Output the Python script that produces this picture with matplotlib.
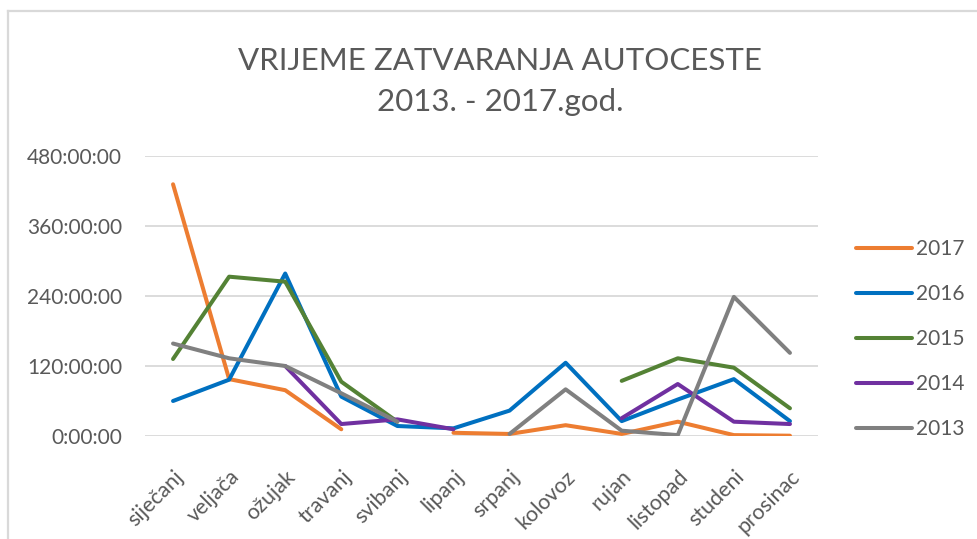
import numpy as np
import matplotlib
matplotlib.use("Agg")
import matplotlib.pyplot as plt
from matplotlib.lines import Line2D
from matplotlib.ticker import FuncFormatter, MultipleLocator

nan = np.nan

months = ["siječanj", "veljača", "ožujak", "travanj", "svibanj", "lipanj",
          "srpanj", "kolovoz", "rujan", "listopad", "studeni", "prosinac"]

# closure time in hours per month (missing months left empty)
y2017 = [431, 97, 78, 11, nan, 5, 3, 18, 3, 24, 1, 0]
y2016 = [59.5, 96, 278, 67, 16.6, 12.6, 43, 125, 25, 62, 97, 25]
y2015 = [131.5, 272.6, 264, 92.6, 24, nan, nan, nan, 94, 132.7, 116.6, 47]
y2014 = [nan, nan, 119.5, 20, 28, 11, nan, nan, 30, 88.6, 24, 20]
y2013 = [158, 132.7, 119.5, 72.7, 24, nan, 3, 79.5, 8.6, 1, 238, 142]

series_names = ["2017", "2016", "2015", "2014", "2013"]
series_values = [y2017, y2016, y2015, y2014, y2013]
series_colors = ["#ED7D31", "#0070C0", "#548235", "#7030A0", "#808080"]

y_ticks = [0, 120, 240, 360, 480]

text_color = "#595959"
plt.rcParams["font.family"] = ["Lato", "DejaVu Sans"]

W, H = 978, 539
fig = plt.figure(figsize=(W / 100, H / 100), dpi=100)

# chart-area border (top and left edges visible)
fig.add_artist(Line2D([8 / W, 8 / W], [0, 1 - 11 / H], transform=fig.transFigure,
                      color="#d9d9d9", lw=1.6))
fig.add_artist(Line2D([8 / W, 1], [1 - 11 / H, 1 - 11 / H], transform=fig.transFigure,
                      color="#d9d9d9", lw=1.6))

left, right = 145 / W, 818 / W
bottom, top = 1 - 435.7 / H, 1 - 155.7 / H
ax = fig.add_axes([left, bottom, right - left, top - bottom])

x = np.arange(len(months))
for name, vals, col in zip(series_names, series_values, series_colors):
    ax.plot(x, vals, color=col, lw=2.9, solid_capstyle="round",
            solid_joinstyle="round", label=name, zorder=3)

ax.set_xlim(-0.5, len(months) - 0.5)
ax.set_ylim(y_ticks[0], y_ticks[-1])
ax.yaxis.set_major_locator(MultipleLocator(120))
ax.yaxis.set_major_formatter(FuncFormatter(lambda v, p: f"{int(round(v))}:00:00"))
ax.grid(axis="y", color="#d9d9d9", lw=1.3)
ax.set_axisbelow(True)
for s in ax.spines.values():
    s.set_visible(False)
ax.tick_params(axis="y", length=0, pad=16.5, labelsize=15, labelcolor=text_color)
ax.tick_params(axis="x", length=0, pad=22, labelsize=15.5, labelcolor=text_color)
ax.set_xticks(x)
ax.set_xticklabels(months, rotation=45, ha="right", va="top", rotation_mode="anchor")

# title
fig.text(500 / W, 1 - 70 / H, "VRIJEME ZATVARANJA AUTOCESTE", ha="center",
         va="baseline", fontsize=22.5, color=text_color)
fig.text(500 / W, 1 - 111 / H, "2013. - 2017.god.", ha="center",
         va="baseline", fontsize=22.5, color=text_color)

# legend
handles = [Line2D([0], [0], color=c, lw=2.9, solid_capstyle="round") for c in series_colors]
fig.legend(handles, series_names, loc="upper left", bbox_to_anchor=(848 / W, 1 - 230.5 / H),
           frameon=False, fontsize=15, labelcolor=text_color, handlelength=2.65,
           handletextpad=0.2, labelspacing=1.2, borderaxespad=0)

fig.savefig("out.png", dpi=100, facecolor="white")
